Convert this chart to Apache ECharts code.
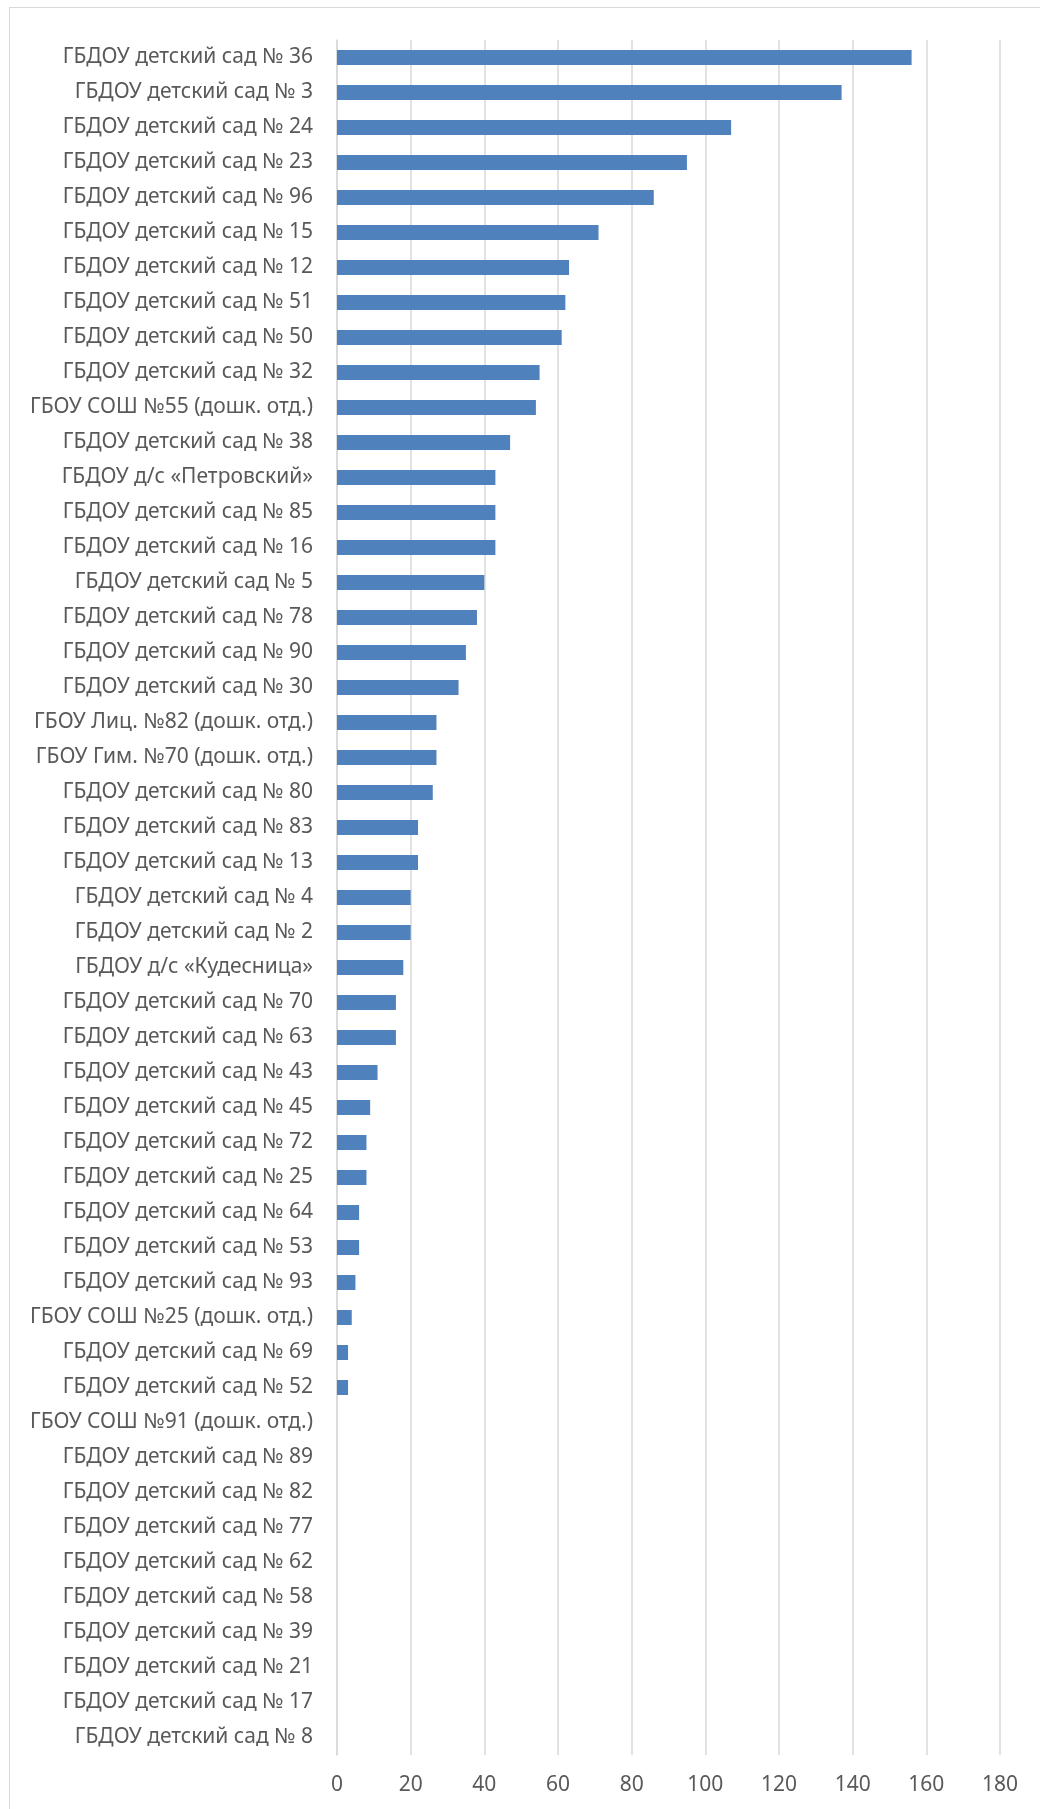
<!DOCTYPE html>
<html>
<head>
<meta charset="utf-8">
<script src="https://cdn.jsdelivr.net/npm/echarts@6/dist/echarts.min.js"></script>
<style>
  html, body { margin: 0; padding: 0; background: #fff; }
  .frame {
    position: absolute; left: 9px; top: 7px; width: 1100px; height: 1900px;
    border: 1px solid #d9d9d9;
  }
  .com-chart { position: absolute; left: 0; top: 0; width: 1040px; height: 1809px; }
</style>
</head>
<body>
<div class="frame"></div>
<div class="com-chart" id="main"></div>
<script>
const categories = [
  "ГБДОУ детский сад № 36",
  "ГБДОУ детский сад № 3",
  "ГБДОУ детский сад № 24",
  "ГБДОУ детский сад № 23",
  "ГБДОУ детский сад № 96",
  "ГБДОУ детский сад № 15",
  "ГБДОУ детский сад № 12",
  "ГБДОУ детский сад № 51",
  "ГБДОУ детский сад № 50",
  "ГБДОУ детский сад № 32",
  "ГБОУ СОШ №55 (дошк. отд.)",
  "ГБДОУ детский сад № 38",
  "ГБДОУ д/с «Петровский»",
  "ГБДОУ детский сад № 85",
  "ГБДОУ детский сад № 16",
  "ГБДОУ детский сад № 5",
  "ГБДОУ детский сад № 78",
  "ГБДОУ детский сад № 90",
  "ГБДОУ детский сад № 30",
  "ГБОУ Лиц. №82 (дошк. отд.)",
  "ГБОУ Гим. №70 (дошк. отд.)",
  "ГБДОУ детский сад № 80",
  "ГБДОУ детский сад № 83",
  "ГБДОУ детский сад № 13",
  "ГБДОУ детский сад № 4",
  "ГБДОУ детский сад № 2",
  "ГБДОУ д/с «Кудесница»",
  "ГБДОУ детский сад № 70",
  "ГБДОУ детский сад № 63",
  "ГБДОУ детский сад № 43",
  "ГБДОУ детский сад № 45",
  "ГБДОУ детский сад № 72",
  "ГБДОУ детский сад № 25",
  "ГБДОУ детский сад № 64",
  "ГБДОУ детский сад № 53",
  "ГБДОУ детский сад № 93",
  "ГБОУ СОШ №25 (дошк. отд.)",
  "ГБДОУ детский сад № 69",
  "ГБДОУ детский сад № 52",
  "ГБОУ СОШ №91 (дошк. отд.)",
  "ГБДОУ детский сад № 89",
  "ГБДОУ детский сад № 82",
  "ГБДОУ детский сад № 77",
  "ГБДОУ детский сад № 62",
  "ГБДОУ детский сад № 58",
  "ГБДОУ детский сад № 39",
  "ГБДОУ детский сад № 21",
  "ГБДОУ детский сад № 17",
  "ГБДОУ детский сад № 8"
];
const values = [
  156, 137, 107, 95, 86, 71, 63, 62, 61, 55,
  54, 47, 43, 43, 43, 40, 38, 35, 33, 27,
  27, 26, 22, 22, 20, 20, 18, 16, 16, 11,
  9, 8, 8, 6, 6, 5, 4, 3, 3, 0,
  0, 0, 0, 0, 0, 0, 0, 0, 0
];
const xTicks = { min: 0, max: 180, interval: 20 };

const chartInstance = echarts.init(document.getElementById("main"));
const labelFont = "'Noto Sans', sans-serif";
chartInstance.setOption({
  animation: false,
  grid: { left: 337, top: 40, width: 663, height: 1715, containLabel: false },
  xAxis: {
    type: "value",
    min: xTicks.min,
    max: xTicks.max,
    interval: xTicks.interval,
    axisLine: { show: false },
    axisTick: { show: false },
    splitLine: { lineStyle: { color: "#d9d9d9", width: 1.5 } },
    axisLabel: { color: "#595959", fontSize: 21, fontFamily: labelFont, margin: 20 }
  },
  yAxis: {
    type: "category",
    inverse: true,
    data: categories,
    axisLine: { show: true, lineStyle: { color: "#d9d9d9", width: 1.5 } },
    axisTick: { show: false },
    axisLabel: { color: "#595959", fontSize: 21, fontFamily: labelFont, margin: 24 }
  },
  series: [{
    type: "bar",
    data: values,
    barWidth: 15,
    itemStyle: { color: "#4f81bd" }
  }]
});
</script>
</body>
</html>
